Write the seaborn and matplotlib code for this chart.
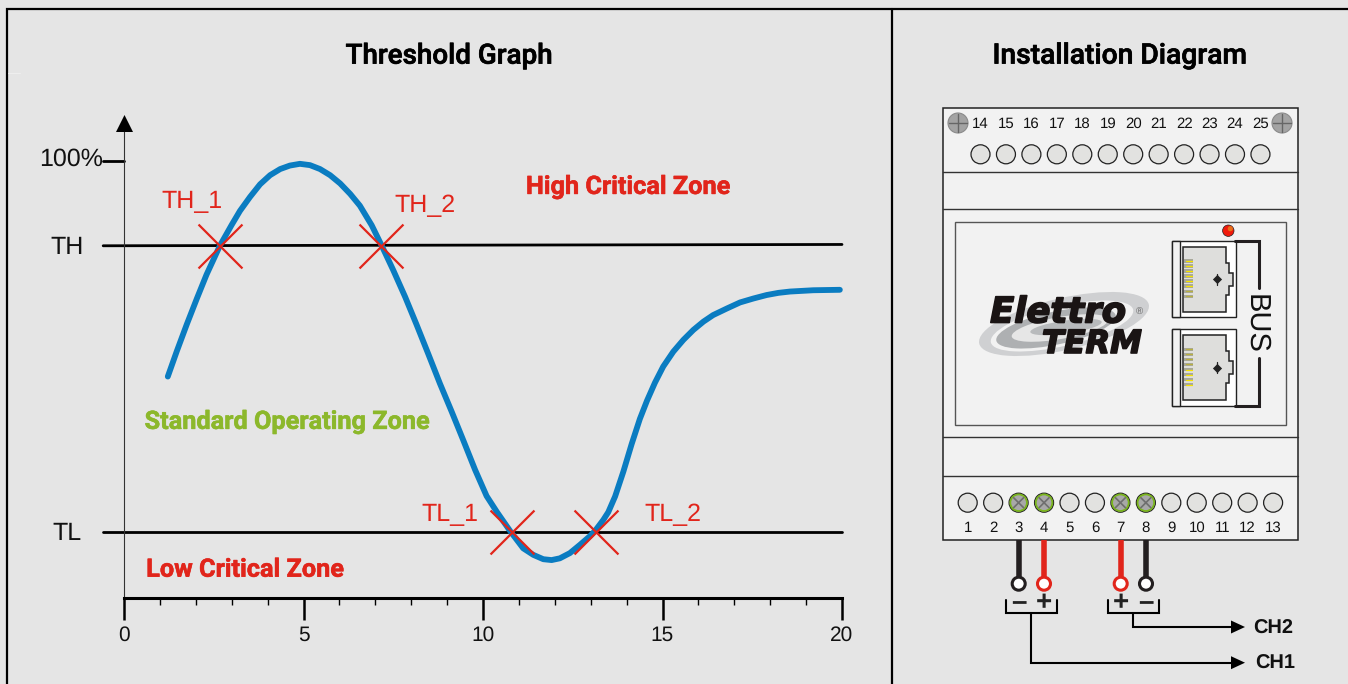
import matplotlib
matplotlib.use("Agg")
import matplotlib.pyplot as plt
from matplotlib.patches import Rectangle, Circle, Ellipse, Polygon
from matplotlib.ticker import MultipleLocator
import matplotlib.patheffects as pe
import pandas as pd
import seaborn as sns

# Threshold curve (x in 0-20, y in % of the 100% mark)
curve_x = [1.22, 1.47, 1.75, 2.03, 2.30, 2.67, 3.00, 3.23, 3.51, 3.79, 4.07, 4.35, 4.62, 4.90,
           5.18, 5.46, 5.74, 6.02, 6.30, 6.57, 6.90, 7.18, 7.50, 7.83, 8.15, 8.48, 8.80,
           9.13, 9.45, 9.78, 10.10, 10.39, 10.77, 11.12, 11.40, 11.68, 11.91, 12.14, 12.42,
           12.70, 12.98, 13.13, 13.35, 13.49, 13.68, 13.91, 14.14, 14.37, 14.57, 14.79, 15.02,
           15.30, 15.58, 15.86, 16.14, 16.41, 16.79, 17.16, 17.53, 17.90, 18.23, 18.55, 19.20, 19.94]
curve_y = [50.8, 56.6, 62.8, 68.7, 74.2, 80.8, 85.6, 88.8, 92.0, 94.9, 97.0, 98.4, 99.2, 99.6,
           99.3, 98.4, 97.0, 95.1, 92.7, 90.0, 85.5, 80.8, 75.2, 69.1, 62.7, 55.9, 49.2,
           42.7, 36.2, 29.4, 23.4, 19.7, 15.2, 11.4, 9.9, 8.9, 8.7, 9.1, 10.3,
           12.2, 14.2, 15.5, 17.9, 19.7, 23.3, 29.0, 35.3, 41.1, 45.3, 49.4, 53.1,
           56.5, 59.2, 61.5, 63.4, 64.9, 66.4, 67.8, 68.7, 69.5, 70.0, 70.3, 70.6, 70.7]

th_level = [80.8, 81.1]
tl_level = [15.2, 15.2]
line_x = [-0.58, 20]
cross_x = [2.67, 7.16, 10.8, 13.15]
cross_y = [80.8, 80.8, 15.2, 15.2]
cross_names = ["TH_1", "TH_2", "TL_1", "TL_2"]
cross_label_x = [1.89, 8.38, 9.08, 15.3]
cross_label_y = [90.85, 89.95, 19.25, 19.25]
x_ticks = [0, 5, 10, 15, 20]

zone_names = ["High Critical Zone", "Standard Operating Zone", "Low Critical Zone"]
zone_colors = ["#e1251b", "#8cb82b", "#e1251b"]
zone_x = [14.04, 4.54, 3.37]
zone_y = [94.25, 40.35, 6.45]

# Installation diagram labels
top_terminals = list(range(14, 26))
bottom_terminals = list(range(1, 14))
used_terminals = [3, 4, 7, 8]

RED = "#e1251b"
BG = "#e5e5e5"
INK = "#1a1414"
W, H = 1348, 684

sns.set_theme(style="white")
plt.rcParams["font.family"] = ["Liberation Sans", "DejaVu Sans"]
plt.rcParams["text.hinting"] = "none"

fig = plt.figure(figsize=(W / 100, H / 100), dpi=100, facecolor=BG)

# pixel canvas for frame and diagram
bg = fig.add_axes([0, 0, 1, 1], facecolor=BG)
bg.set_xlim(0, W)
bg.set_ylim(H, 0)
bg.axis("off")

bg.plot([7, 7, W], [H, 9, 9], color="black", lw=1.6, solid_joinstyle="miter")
bg.plot([892, 892], [9, H], color="black", lw=1.6)
bg.plot([8, 20], [73, 73], color="#efefef", lw=0.7)

heavy = [pe.withStroke(linewidth=0.5, foreground="black")]
bg.text(449, 56, "Threshold Graph", ha="center", va="center", fontsize=20, family="Roboto",
        weight="medium", color="black", path_effects=heavy)
bg.text(1120, 56, "Installation Diagram", ha="center", va="center", fontsize=20.3, family="Roboto",
        weight="medium", color="black", path_effects=heavy)

# device body
bg.add_patch(Rectangle((942.5, 107.5), 355.5, 432.5, fc="#f2f2f2", ec="#222222", lw=1.1))
for yy in [171.7, 209.3, 437.3, 476]:
    bg.plot([942.5, 1298], [yy, yy], color="#333333", lw=1.0)
bg.add_patch(Rectangle((954.7, 221.7), 331, 203.3, fc="#f2f2f2", ec="#555555", lw=1.0))

# screws
for sx in [958, 1282]:
    bg.add_patch(Circle((sx, 123), 10, fc="#a3a3a3", ec="#8a8a8a", lw=0.8))
    bg.plot([sx - 9, sx + 9], [123, 123], color="#666666", lw=1.0)
    bg.plot([sx, sx], [114, 132], color="#666666", lw=1.0)

# terminals
for i, t in enumerate(top_terminals):
    cx = 980.5 + i * 25.45
    bg.add_patch(Circle((cx, 154.3), 9.5, fc="#e2e2e0", ec="#222222", lw=0.9))
    bg.text(cx, 128.3, str(t), ha="center", va="baseline", fontsize=10.8, color="#111111")
for i, t in enumerate(bottom_terminals):
    cx = 967.7 + i * 25.45
    if t in used_terminals:
        bg.add_patch(Circle((cx, 502.7), 9.5, fc="#a8a8a8", ec="#222222", lw=0.9))
        bg.add_patch(Circle((cx, 502.7), 8.3, fc="none", ec="#7ab51d", lw=1.3))
        bg.plot([cx - 5, cx + 5], [497.7, 507.7], color="#6e6e6e", lw=1.2)
        bg.plot([cx - 5, cx + 5], [507.7, 497.7], color="#6e6e6e", lw=1.2)
    else:
        bg.add_patch(Circle((cx, 502.7), 9.5, fc="#e2e2e0", ec="#222222", lw=0.9))
    bg.text(cx, 532, str(t), ha="center", va="baseline", fontsize=10.8, color="#111111")

# RJ45 sockets
for dy in [0, 88.3]:
    bg.add_patch(Rectangle((1172.3, 241 + dy), 63.4, 76.3, fc="white", ec="#222222", lw=1.0))
    bg.add_patch(Rectangle((1172.3, 241 + dy), 7.7, 76.3, fc="#f2f2f2", ec="#222222", lw=1.0))
    socket = [(1183.3, 246.7), (1225.7, 246.7), (1225.7, 263), (1229, 263), (1229, 273),
              (1232.7, 273), (1232.7, 285.7), (1229, 285.7), (1229, 295), (1225.7, 295),
              (1225.7, 311.7), (1183.3, 311.7)]
    bg.add_patch(Polygon([(a, b + dy) for a, b in socket], fc="#dededc", ec="#222222", lw=1.1))
    for p in range(8):
        py = 261 + p * 5.05 + dy
        bg.add_patch(Rectangle((1184, py - 1.8), 9, 3.6, fc="#a8a89a", ec="none"))
        bright = "#f5e300" if (p < 6 and dy == 0) or (p > 3 and dy > 0) else "#b8b040"
        bg.plot([1185.5, 1192], [py, py], color=bright, lw=0.9)
    bg.scatter([1216.7], [279.3 + dy], marker="D", s=22, color="#222222", linewidths=0)
    bg.plot([1216.7, 1216.7], [273.5 + dy, 285 + dy], color="#222222", lw=0.9)

bg.add_patch(Circle((1228.3, 230.7), 5.7, fc="#f01a0c", ec="#222222", lw=0.5))
bg.add_patch(Circle((1230.3, 228.7), 2.6, fc="#e8701a", ec="none"))

# BUS bracket
bg.plot([1235, 1259, 1259], [240.5, 240.5, 288], color="#231f20", lw=2.2, solid_joinstyle="miter")
bg.plot([1259, 1259, 1235], [358, 405.7, 405.7], color="#231f20", lw=2.2, solid_joinstyle="miter")
bg.text(1255, 324, "BUS", rotation=-90, ha="center", va="center", fontsize=21, color="#111111")

# logo swoosh
bg.add_patch(Ellipse((1064, 324), 174, 52, angle=-13, fc="#cfd0d2", ec="none"))
bg.add_patch(Ellipse((1062, 326), 146, 40, angle=-13, fc="#f2f2f2", ec="none"))
bg.add_patch(Ellipse((1056, 328), 122, 33, angle=-12, fc="#aeb0b2", ec="none"))
bg.add_patch(Ellipse((1060, 328), 98, 22, angle=-10, fc="#e6e6e6", ec="none"))
bg.add_patch(Ellipse((1066, 327), 72, 13, angle=-8, fc="#b8babc", ec="none"))

thick = [pe.withStroke(linewidth=1.2, foreground=INK)]
bg.text(1058, 322.5, "Elettro", ha="center", va="baseline", fontsize=25.5, family="DejaVu Sans",
        weight="bold", style="italic", color=INK, path_effects=thick)
bg.text(1092, 353, "TERM", ha="center", va="baseline", fontsize=23, family="DejaVu Sans",
        weight="bold", style="italic", color=INK, path_effects=thick)
bg.text(1139, 312, "®", ha="center", va="center", fontsize=7, color="#666666")

# wires
wire_x = [1018.7, 1044, 1120.7, 1146]
wire_c = ["#231f20", RED, RED, "#231f20"]
for wx, wc in zip(wire_x, wire_c):
    bg.plot([wx, wx], [540, 577], color=wc, lw=4, solid_capstyle="butt")
    bg.add_patch(Circle((wx, 583.7), 6.5, fc="white", ec=wc, lw=2.2, zorder=3))
for wx, sign in zip(wire_x, ["–", "+", "+", "–"]):
    bg.text(wx, 603, sign, ha="center", va="center", fontsize=20, weight="bold", color="#222222")

for left in [1006, 1108]:
    bg.plot([left, left, left + 51.3, left + 51.3], [600, 613.3, 613.3, 600], color="black", lw=1.5,
            solid_joinstyle="miter")

bg.plot([1031.3, 1031.3, 1235], [613, 662.7, 662.7], color="black", lw=1.5, solid_joinstyle="miter")
bg.plot([1133.3, 1133.3, 1235], [613, 627, 627], color="black", lw=1.5, solid_joinstyle="miter")
for ay in [627, 662.7]:
    bg.add_patch(Polygon([(1231, ay - 6.5), (1245, ay), (1231, ay + 6.5)], fc="black", ec="none"))
bg.text(1253, 628.5, "CH2", ha="left", va="center", fontsize=14.4, weight="bold", color="#111111")
bg.text(1255, 664, "CH1", ha="left", va="center", fontsize=14.4, weight="bold", color="#111111")

# threshold graph
ax = fig.add_axes([124 / W, (H - 598) / H, 718 / W, (598 - 115) / H], facecolor="none")
curve = pd.DataFrame({"x": curve_x, "y": curve_y})
crosses = pd.DataFrame({"x": cross_x, "y": cross_y})

sns.lineplot(x=line_x, y=th_level, color="black", lw=2, ax=ax, clip_on=False)
sns.lineplot(x=line_x, y=tl_level, color="black", lw=2, ax=ax, clip_on=False)
sns.lineplot(x=[-0.58, 0], y=[100.3, 100.3], color="black", lw=2, ax=ax, clip_on=False)
sns.lineplot(data=curve, x="x", y="y", sort=False, estimator=None, color="#0a7cc1", lw=4.2, ax=ax,
             clip_on=False)
sns.scatterplot(data=crosses, x="x", y="y", marker="x", s=1000, color=RED, linewidth=1.6, ax=ax,
                zorder=5)

ax.set_xlim(0, 20)
ax.set_ylim(0, 110.8)
ax.set_xlabel("")
ax.set_ylabel("")
ax.set_yticks([])
ax.set_xticks(x_ticks)
ax.xaxis.set_minor_locator(MultipleLocator(1))
ax.tick_params(axis="x", which="major", length=16, width=1.8, labelsize=15, pad=3.7, bottom=True,
               color="black", labelcolor="#111111")
ax.tick_params(axis="x", which="minor", length=5, width=1, bottom=True, color="black")
for side in ["top", "right"]:
    ax.spines[side].set_visible(False)
ax.spines["bottom"].set_linewidth(2.2)
ax.spines["bottom"].set_color("black")
ax.spines["left"].set_linewidth(0.8)
ax.spines["left"].set_color("#333333")
ax.spines["left"].set_bounds(0, 107)
ax.scatter([0], [108.9], marker="^", s=150, color="black", linewidths=0, clip_on=False)

for name, lx, ly in zip(cross_names, cross_label_x, cross_label_y):
    ax.text(lx, ly, name, ha="center", va="center", fontsize=18, color=RED)
for name, c, zx, zy in zip(zone_names, zone_colors, zone_x, zone_y):
    ax.text(zx, zy, name, ha="center", va="center", fontsize=18.2, family="Roboto", weight="bold", color=c,
            path_effects=[pe.withStroke(linewidth=0.4, foreground=c)])

ax.text(-1.48, 100.7, "100%", ha="center", va="center", fontsize=18, color="#111111", clip_on=False)
ax.text(-1.58, 80.4, "TH", ha="center", va="center", fontsize=18, color="#111111", clip_on=False)
ax.text(-1.6, 14.9, "TL", ha="center", va="center", fontsize=18, color="#111111", clip_on=False)

fig.savefig("out.png", dpi=100, facecolor=BG)
